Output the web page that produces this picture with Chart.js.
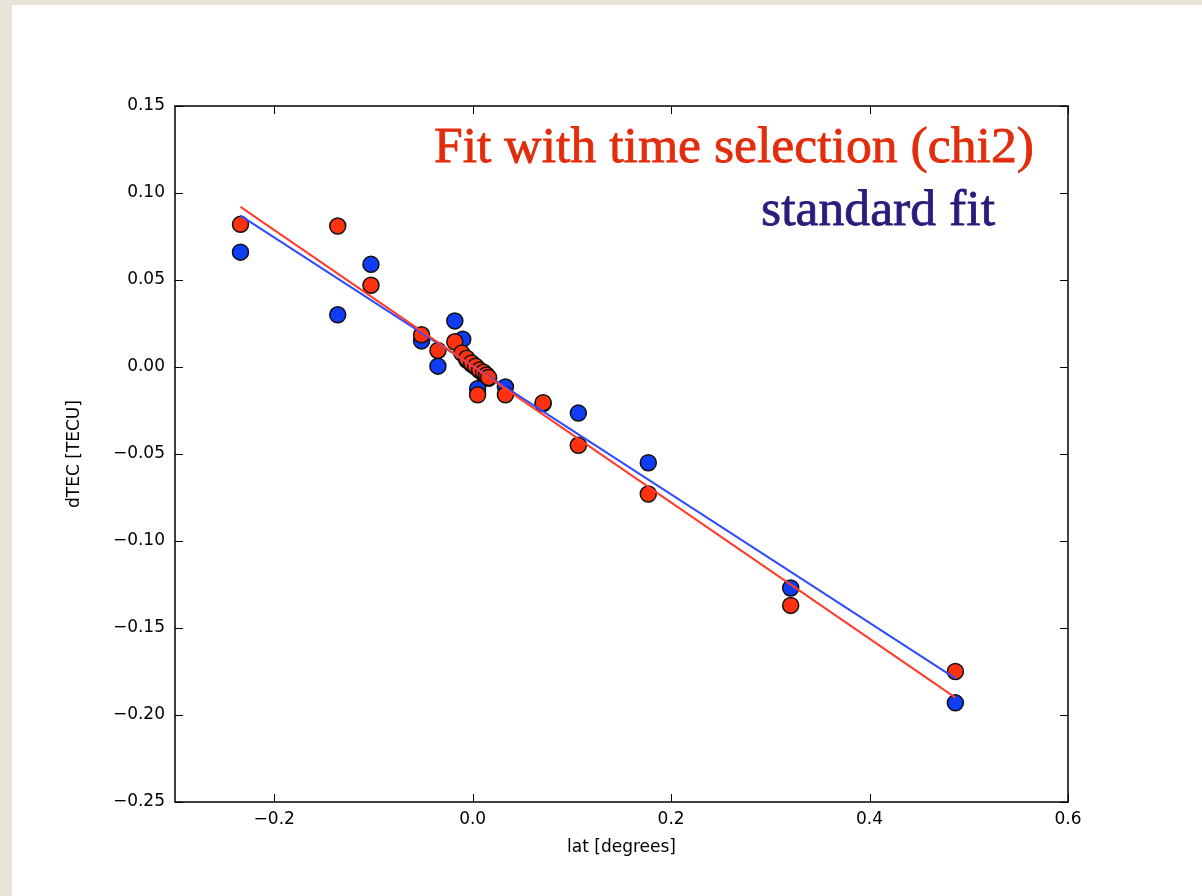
<!DOCTYPE html>
<html>
<head>
<meta charset="utf-8">
<script src="https://cdn.jsdelivr.net/npm/chart.js@4"></script>
<style>
  html, body { margin: 0; padding: 0; }
  body { width: 1202px; height: 896px; background: #e8e4da; position: relative; overflow: hidden; }
  .card { position: absolute; left: 12px; top: 5px; right: 0; bottom: 0; background: #ffffff; }
  #tecChart { position: absolute; left: 0; top: 0; }
</style>
</head>
<body>
<div class="card"></div>
<canvas id="tecChart" width="1202" height="896"></canvas>
<script>
// Fit with time selection (chi2) - red points
const latRed = [-0.234, -0.136, -0.1025, -0.0515, -0.035, -0.018, -0.011, -0.006, -0.001, 0.003, 0.007, 0.011, 0.014, 0.016, 0.005, 0.033, 0.071, 0.1065, 0.177, 0.3205, 0.4865];
const dtecRed = [0.082, 0.081, 0.047, 0.0185, 0.0095, 0.0145, 0.008, 0.005, 0.0023, 0.0005, -0.0017, -0.003, -0.0046, -0.006, -0.016, -0.016, -0.0205, -0.045, -0.073, -0.137, -0.175];

// standard fit - blue points
const latBlue = [-0.234, -0.136, -0.1025, -0.0515, -0.035, -0.018, -0.010, -0.006, -0.001, 0.003, 0.007, 0.011, 0.014, 0.016, 0.005, 0.033, 0.071, 0.1065, 0.177, 0.3205, 0.4865];
const dtecBlue = [0.066, 0.030, 0.059, 0.015, 0.0005, 0.0265, 0.016, 0.004, 0.0015, 0.0, -0.002, -0.004, -0.005, -0.0065, -0.0125, -0.0115, -0.021, -0.0265, -0.055, -0.127, -0.193];

// fitted lines (end points)
const fitLat = [-0.234, 0.4865];
const fitRed = [0.092, -0.190];
const fitBlue = [0.087, -0.179];

// axis ticks
const xTickValues = [-0.2, 0.0, 0.2, 0.4, 0.6];
const yTickValues = [0.15, 0.10, 0.05, 0.00, -0.05, -0.10, -0.15, -0.20, -0.25];

const toPoints = (xs, ys) => xs.map((x, i) => ({ x: x, y: ys[i] }));
const minus = (s) => s.replace('-', '\u2212');

const tickFont = { family: 'DejaVu Sans', size: 17 };

// inward ticks on all four sides, frame and the two annotations
const framePlugin = {
    id: 'frame',
    afterDraw(chart) {
        const { ctx, chartArea: a, scales: { x, y } } = chart;
        const len = 8;
        ctx.save();
        ctx.strokeStyle = '#000';
        ctx.lineWidth = 1;
        ctx.beginPath();
        xTickValues.forEach(v => {
            const px = Math.round(x.getPixelForValue(v)) + 0.5;
            ctx.moveTo(px, a.bottom); ctx.lineTo(px, a.bottom - len);
            ctx.moveTo(px, a.top); ctx.lineTo(px, a.top + len);
        });
        yTickValues.forEach(v => {
            const py = Math.round(y.getPixelForValue(v)) + 0.5;
            ctx.moveTo(a.left, py); ctx.lineTo(a.left + len, py);
            ctx.moveTo(a.right, py); ctx.lineTo(a.right - len, py);
        });
        ctx.stroke();
        ctx.lineWidth = 1.5;
        ctx.strokeRect(a.left, a.top, a.right - a.left, a.bottom - a.top);

        // annotation texts, sized so the red line spans the same width as the original
        const family = '"Liberation Serif", "DejaVu Serif", serif';
        ctx.font = '40px ' + family;
        const w = ctx.measureText('Fit with time selection (chi2)').width;
        const size = 40 * 600 / w;
        ctx.font = size.toFixed(1) + 'px ' + family;
        ctx.textAlign = 'right';
        ctx.textBaseline = 'alphabetic';
        ctx.lineWidth = 0.8;
        ctx.lineJoin = 'round';
        ctx.fillStyle = ctx.strokeStyle = '#e22d0c';
        ctx.fillText('Fit with time selection (chi2)', 1034, 162);
        ctx.strokeText('Fit with time selection (chi2)', 1034, 162);
        ctx.fillStyle = ctx.strokeStyle = '#2b1b7c';
        ctx.fillText('standard fit', 995, 225);
        ctx.strokeText('standard fit', 995, 225);
        ctx.restore();
    }
};

const ctx = document.getElementById('tecChart').getContext('2d');

new Chart(ctx, {
    type: 'scatter',
    data: {
        datasets: [
            {
                label: 'fit chi2',
                data: toPoints(fitLat, fitRed),
                showLine: true,
                borderColor: '#ff3b2a',
                borderWidth: 2,
                pointRadius: 0,
            },
            {
                label: 'standard fit',
                data: toPoints(fitLat, fitBlue),
                showLine: true,
                borderColor: '#2f4bff',
                borderWidth: 2,
                pointRadius: 0,
            },
            {
                label: 'chi2 points',
                data: toPoints(latRed, dtecRed),
                pointRadius: 8,
                pointBackgroundColor: '#ff3210',
                pointBorderColor: '#111',
                pointBorderWidth: 1.5,
            },
            {
                label: 'standard points',
                data: toPoints(latBlue, dtecBlue),
                pointRadius: 8,
                pointBackgroundColor: '#0f3cf5',
                pointBorderColor: '#111',
                pointBorderWidth: 1.5,
            },
        ],
    },
    options: {
        responsive: false,
        animation: false,
        layout: { padding: { left: 0, top: 106, right: 134, bottom: 0 } },
        plugins: {
            legend: { display: false },
            tooltip: { enabled: false },
        },
        scales: {
            x: {
                type: 'linear',
                min: -0.3,
                max: 0.6,
                afterBuildTicks: (scale) => { scale.ticks = xTickValues.map(v => ({ value: v })); },
                afterFit: (scale) => { scale.height = 94; },
                grid: { display: false, drawTicks: false },
                border: { display: false },
                ticks: {
                    color: '#000',
                    font: tickFont,
                    padding: 7,
                    maxRotation: 0,
                    callback: (value) => minus(value.toFixed(1)),
                },
                title: {
                    display: true,
                    text: 'lat [degrees]',
                    color: '#000',
                    font: tickFont,
                    padding: { top: 4, bottom: 38 },
                },
            },
            y: {
                type: 'linear',
                min: -0.25,
                max: 0.15,
                afterBuildTicks: (scale) => { scale.ticks = yTickValues.map(v => ({ value: v })); },
                afterFit: (scale) => { scale.width = 175; },
                grid: { display: false, drawTicks: false },
                border: { display: false },
                ticks: {
                    color: '#000',
                    font: tickFont,
                    padding: 10,
                    callback: (value) => minus(value.toFixed(2)),
                },
                title: {
                    display: true,
                    text: 'dTEC [TECU]',
                    color: '#000',
                    font: tickFont,
                    padding: { top: 64, bottom: 4 },
                },
            },
        },
    },
    plugins: [framePlugin],
});
</script>
</body>
</html>
